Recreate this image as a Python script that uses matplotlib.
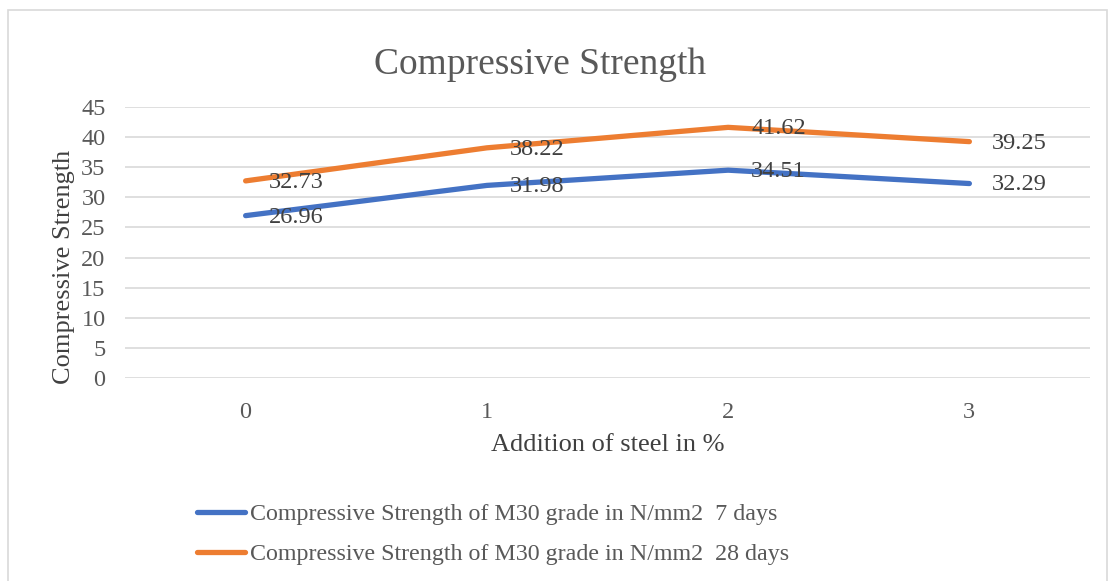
import matplotlib.pyplot as plt
from matplotlib.patches import Rectangle

steel = [0, 1, 2, 3]
days7 = [26.96, 31.98, 34.51, 32.29]
days28 = [32.73, 38.22, 41.62, 39.25]
labels = ["Compressive Strength of M30 grade in N/mm2  7 days",
          "Compressive Strength of M30 grade in N/mm2  28 days"]

plt.rcParams['font.family'] = ['Liberation Serif', 'DejaVu Serif']

fig = plt.figure(figsize=(11.1, 5.81), dpi=100)
ax = fig.add_axes([125/1110, 1-378/581, 965/1110, 271/581])

# chart border
fig.patches.append(Rectangle((8/1110, -0.02), 1099/1110, 1-10/581+0.02,
                             transform=fig.transFigure, fill=False,
                             edgecolor='#d9d9d9', linewidth=1.2))

blue = '#4472C4'
orange = '#ED7D31'
ax.plot(steel, days7, color=blue, lw=3.8, solid_capstyle='round', label=labels[0], zorder=3)
ax.plot(steel, days28, color=orange, lw=3.8, solid_capstyle='round', label=labels[1], zorder=3)

for xs, ys in [(steel, days7), (steel, days28)]:
    for x, y in zip(xs, ys):
        ax.annotate(f"{y:.2f}", (x, y), xytext=(16.5, -1), textcoords='offset points',
                    ha='left', va='center', fontsize=17.5, color='#404040', zorder=4)

ax.set_xlim(-0.5, 3.5)
ax.set_ylim(0, 45)
ax.set_yticks(range(0, 46, 5))
ax.set_xticks(steel)
ax.grid(axis='y', color='#d9d9d9', lw=1.2)
ax.set_axisbelow(True)
for s in ax.spines.values():
    s.set_visible(False)
ax.tick_params(length=0, labelsize=17.5, colors='#595959', pad=14)
ax.tick_params(axis='x', pad=17)

fig.text(540/1110, 1-65/581, "Compressive Strength", fontsize=27, color='#595959',
         ha='center', va='center')
ax.set_xlabel("Addition of steel in %", fontsize=19, color='#404040', labelpad=8)
ax.set_ylabel("Compressive Strength", fontsize=19, color='#404040')
ax.yaxis.set_label_coords(-0.052, 0.41)

fig.legend(loc='upper left', bbox_to_anchor=(187/1110, 1-494/581), frameon=False,
           fontsize=17.25, handlelength=2.0, handletextpad=0.25, labelspacing=0.75,
           labelcolor='#595959', borderaxespad=0)

fig.savefig("out.png", dpi=100, facecolor='white')
